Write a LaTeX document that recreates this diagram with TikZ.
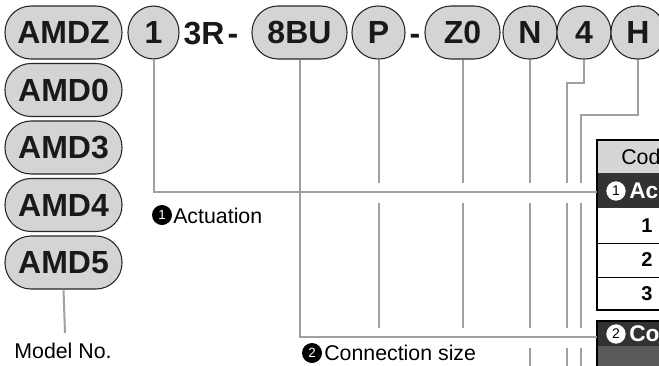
\documentclass[tikz,border=0pt]{standalone}
\usepackage{fontspec}
\setmainfont{Liberation Sans}
\definecolor{pillgray}{RGB}{212,212,212}
\definecolor{linegray}{RGB}{160,160,160}
\definecolor{darkrow}{RGB}{50,50,50}
\definecolor{greyrow}{RGB}{90,90,90}
\definecolor{headgray}{RGB}{214,214,214}
\begin{document}
\begin{tikzpicture}[x=0.75pt,y=-0.75pt,
  pill/.style={draw=black!85, line width=0.8pt, fill=pillgray, rounded corners=19.5pt,
    minimum height=39.75pt, inner sep=0pt, font=\fontsize{24}{24}\selectfont\bfseries, text=black!90},
  sep/.style={inner sep=0pt, anchor=base, font=\fontsize{24}{24}\selectfont\bfseries, text=black!90},
  lead/.style={draw=linegray, line width=1.5pt},
  lbl/.style={font=\fontsize{16}{16}\selectfont, anchor=west, inner sep=0pt},
  blackno/.style={circle, fill=black, text=white, inner sep=0pt, minimum size=15pt, font=\fontsize{10}{10}\selectfont},
  whiteno/.style={circle, fill=white, text=black, inner sep=0pt, minimum size=14.5pt, font=\fontsize{10.5}{10.5}\selectfont},
  headtxt/.style={anchor=west, inner sep=0pt, font=\fontsize{16}{16}\selectfont},
  darktxt/.style={anchor=west, inner sep=0pt, text=white, font=\fontsize{17}{17}\selectfont\bfseries},
  rowtxt/.style={inner sep=0pt, font=\fontsize{15}{15}\selectfont\bfseries}
]
\clip (0,0) rectangle (659,365);
% model column
\node[pill, minimum width=87.75pt] (amdz) at (63.5,32.5) {AMDZ};
\node[pill, minimum width=87.75pt] (amd0) at (63.5,90) {AMD0};
\node[pill, minimum width=87.75pt] (amd3) at (63.5,147.5) {AMD3};
\node[pill, minimum width=87.75pt] (amd4) at (63.5,205) {AMD4};
\node[pill, minimum width=87.75pt] (amd5) at (63.5,262.5) {AMD5};
% top row
\node[pill, minimum width=38.25pt] (c1) at (153.5,32.5) {1};
\node[sep] (r3) at (204,44) {3R};
\node[sep] (h1) at (233,44) {-};
\node[pill, minimum width=71.25pt] (bu) at (299.5,32.5) {8BU};
\node[pill, minimum width=39.75pt] (p) at (378.5,32.5) {P};
\node[sep] (h2) at (415,44) {-};
\node[pill, minimum width=56.25pt] (z0) at (462.5,32.5) {Z0};
\node[pill, minimum width=40.5pt] (n) at (530,32.5) {N};
\node[pill, minimum width=40.5pt] (d4) at (584,32.5) {4};
\node[pill, minimum width=40.5pt] (hh) at (638,32.5) {H};
% levels
\coordinate (ga) at (0,183);
\coordinate (gb) at (0,203);
\coordinate (gc) at (0,328);
\coordinate (gd) at (0,348);
\coordinate (ge) at (0,370);
\coordinate (t1) at (597,192);
\coordinate (t2) at (597,337);
\coordinate (k4) at (567,83);
\coordinate (kh) at (581,115);
\coordinate (mn) at (65,333);
% tables
\fill[headgray] (597,140) rectangle (680,173);
\fill[darkrow] (597,173) rectangle (680,208);
\fill[white] (597,208) rectangle (680,310);
\draw[black, line width=0.6pt] (597,243) -- (680,243) (597,277) -- (680,277);
\draw[black, line width=1.6pt] (680,140) -- (597,140) -- (597,310) -- (680,310);
\node[headtxt] (code) at (621,157) {Cod};
\node[whiteno] (w1) at (616,191) {1};
\node[darktxt] (act) at (629,191) {Ac};
\node[rowtxt] (r1) at (647,226) {1};
\node[rowtxt] (r2) at (647,260) {2};
\node[rowtxt] (r3b) at (647,294) {3};
\fill[darkrow] (597,321) rectangle (680,346);
\fill[greyrow] (597,346) rectangle (680,370);
\draw[black, line width=1.6pt] (680,321) -- (597,321) -- (597,370);
\node[whiteno] (w2) at (616,334) {2};
\node[darktxt] (con) at (629,334) {Co};
% leads
\draw[lead] (c1.south) |- (t1);
\draw[lead] (bu.south) |- (t2);
\draw[lead] (p.south) -- (p.south |- ga) (p.south |- gb) -- (p.south |- gc);
\draw[lead] (z0.south) -- (z0.south |- ga) (z0.south |- gb) -- (z0.south |- gc);
\draw[lead] (n.south) -- (n.south |- ga) (n.south |- gb) -- (n.south |- gc) (n.south |- gd) -- (n.south |- ge);
\draw[lead] (d4.south) |- (k4) -- (k4 |- ga) (k4 |- gb) -- (k4 |- gc) (k4 |- gd) -- (k4 |- ge);
\draw[lead] (hh.south) |- (kh) -- (kh |- ga) (kh |- gb) -- (kh |- gc) (kh |- gd) -- (kh |- ge);
\draw[lead] (amd5.south) -- (mn);
% labels
\node[blackno] (b1) at (162,215) {1};
\node[lbl] (lact) at (173,216) {Actuation};
\node[lbl, anchor=north] (lmod) at (63,343) {Model No.};
\node[blackno] (b2) at (312,353) {2};
\node[lbl] (lcon) at (324,353) {Connection size};
\end{tikzpicture}
\end{document}
